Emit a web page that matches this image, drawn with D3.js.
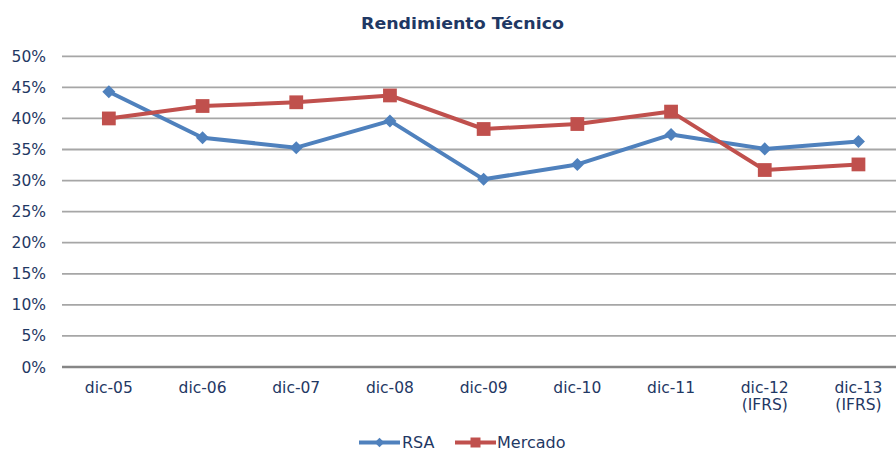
<!DOCTYPE html>
<html>
<head>
<meta charset="utf-8">
<script src="https://cdn.jsdelivr.net/npm/d3@7"></script>
<style>
  body { margin: 0; background: #fff; }
  text { font-family: "DejaVu Sans", Verdana, sans-serif; fill: #1F3864; }
</style>
</head>
<body>
<div id="chart"></div>
<script>
// Categories and series
const categories = ["dic-05", "dic-06", "dic-07", "dic-08", "dic-09", "dic-10", "dic-11", "dic-12\n(IFRS)", "dic-13\n(IFRS)"];
const rsaValues = [44.3, 36.9, 35.3, 39.6, 30.2, 32.6, 37.4, 35.1, 36.3];
const mercadoValues = [40.0, 42.0, 42.6, 43.7, 38.3, 39.1, 41.1, 31.7, 32.6];
const yTicks = [0, 5, 10, 15, 20, 25, 30, 35, 40, 45, 50];

const W = 896, H = 452;
const plot = { left: 62, top: 56.3, bottom: 367 };

const svg = d3.select("#chart").append("svg")
    .attr("width", W)
    .attr("height", H);

const xScale = d3.scaleBand()
    .domain(d3.range(categories.length))
    .range([plot.left, plot.left + 93.7 * categories.length]);

const yScale = d3.scaleLinear()
    .domain([0, 50])
    .range([plot.bottom, plot.top]);

const cx = i => xScale(i) + xScale.bandwidth() / 2;

// Title
svg.append("text")
    .attr("x", 462.5)
    .attr("y", 28.5)
    .attr("text-anchor", "middle")
    .attr("font-weight", "bold")
    .attr("font-size", 16.5)
    .attr("textLength", 203)
    .attr("lengthAdjust", "spacingAndGlyphs")
    .text("Rendimiento Técnico");

// Gridlines
svg.append("g").selectAll("line")
    .data(yTicks)
    .enter().append("line")
    .attr("x1", plot.left)
    .attr("x2", W)
    .attr("y1", d => yScale(d))
    .attr("y2", d => yScale(d))
    .attr("stroke", d => (d === 0 ? "#868686" : "#a6a6a6"))
    .attr("stroke-width", d => (d === 0 ? 2.5 : 1.8));

// Y axis labels
svg.append("g").selectAll("text")
    .data(yTicks)
    .enter().append("text")
    .attr("x", 46)
    .attr("y", d => yScale(d) + 5.5)
    .attr("text-anchor", "end")
    .attr("font-size", 15.5)
    .text(d => d + "%");

// X axis labels
const xl = svg.append("g").selectAll("text")
    .data(categories)
    .enter().append("text")
    .attr("text-anchor", "middle")
    .attr("font-size", 15.5)
    .attr("y", 392.5);
xl.each(function (d, i) {
    const lines = d.split("\n");
    lines.forEach((s, k) => {
        d3.select(this).append("tspan")
            .attr("x", cx(i))
            .attr("dy", k === 0 ? 0 : 17)
            .text(s);
    });
});

// Lines
const line = d3.line()
    .x((d, i) => cx(i))
    .y(d => yScale(d));

const series = [
    { name: "RSA", values: rsaValues, color: "#4F81BD", diamond: true },
    { name: "Mercado", values: mercadoValues, color: "#C0504D", diamond: false }
];

series.forEach(s => {
    svg.append("path")
        .datum(s.values)
        .attr("fill", "none")
        .attr("stroke", s.color)
        .attr("stroke-width", 4)
        .attr("stroke-linejoin", "round")
        .attr("d", line);
});

// Markers (diamond = rotated square)
series.forEach(s => {
    svg.append("g").selectAll("path")
        .data(s.values)
        .enter().append("path")
        .attr("d", d3.symbol().type(d3.symbolSquare).size(s.diamond ? 85 : 190))
        .attr("transform", (d, i) => `translate(${cx(i)},${yScale(d)})` + (s.diamond ? " rotate(45)" : ""))
        .attr("fill", s.color);
});

// Legend
const legendPos = [
    { x: 359, textX: 402 },
    { x: 455, textX: 497 }
];
const legendY = 442.5;
series.forEach((s, k) => {
    const g = svg.append("g");
    const lx = legendPos[k].x;
    g.append("line")
        .attr("x1", lx).attr("x2", lx + 41)
        .attr("y1", legendY).attr("y2", legendY)
        .attr("stroke", s.color)
        .attr("stroke-width", 4);
    g.append("path")
        .attr("d", d3.symbol().type(d3.symbolSquare).size(s.diamond ? 45 : 100))
        .attr("transform", `translate(${lx + 20.5},${legendY})` + (s.diamond ? " rotate(45)" : ""))
        .attr("fill", s.color);
    g.append("text")
        .attr("x", legendPos[k].textX)
        .attr("y", legendY + 5.5)
        .attr("font-size", 16)
        .text(s.name);
});
</script>
</body>
</html>
